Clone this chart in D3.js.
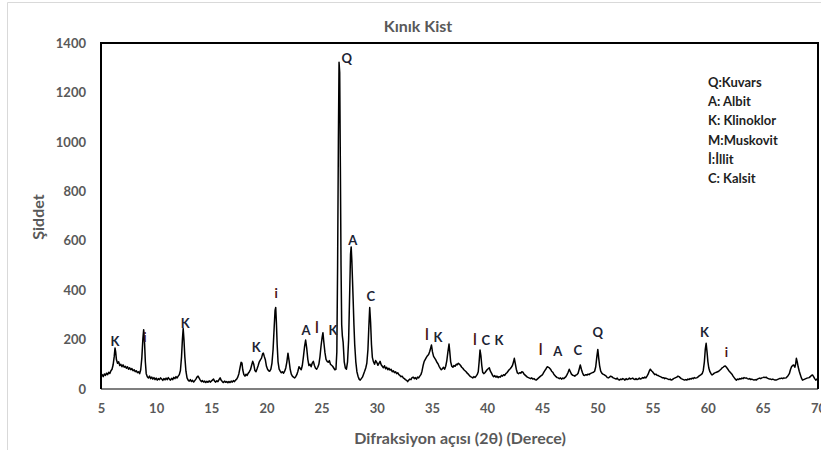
<!DOCTYPE html>
<html lang="tr">

<head>
  <meta charset="UTF-8">
  <script src="https://d3js.org/d3.v7.min.js"></script>
  <style>
    body { margin: 0; background: #fff; }
    text { font-family: Lato, "Open Sans", sans-serif; }
  </style>
</head>

<body>
  <svg id="chart" width="821" height="450"></svg>

  <script>
    // pattern: [2θ, intensity]
    const pattern = [
      [5.0, 52], [5.1, 58], [5.2, 50], [5.3, 61], [5.4, 55], [5.5, 64], [5.6, 58], [5.7, 68], [5.8, 63], [5.9, 74],
      [6.0, 80], [6.1, 98], [6.2, 132], [6.27, 166], [6.33, 150], [6.4, 118], [6.5, 104], [6.6, 110], [6.7, 95], [6.8, 100],
      [6.9, 90], [7.0, 98], [7.1, 88], [7.2, 92], [7.3, 84], [7.4, 90], [7.5, 80], [7.6, 86], [7.7, 78], [7.8, 83],
      [7.9, 74], [8.0, 78], [8.1, 70], [8.2, 74], [8.3, 66], [8.4, 70], [8.5, 62], [8.6, 78], [8.7, 125], [8.8, 205],
      [8.87, 240], [8.95, 185], [9.02, 110], [9.1, 62], [9.2, 50], [9.3, 45], [9.4, 52], [9.5, 42], [9.6, 48], [9.7, 40],
      [9.8, 46], [9.9, 38], [10.0, 44], [10.1, 36], [10.2, 42], [10.3, 38], [10.4, 45], [10.5, 40], [10.6, 35], [10.7, 42],
      [10.8, 37], [10.9, 44], [11.0, 38], [11.1, 46], [11.2, 40], [11.3, 36], [11.4, 43], [11.5, 38], [11.6, 47], [11.7, 42],
      [11.8, 50], [11.9, 45], [12.0, 52], [12.1, 58], [12.2, 75], [12.3, 130], [12.38, 200], [12.45, 245], [12.52, 200], [12.6, 130],
      [12.7, 72], [12.8, 45], [12.9, 36], [13.0, 32], [13.1, 38], [13.2, 30], [13.3, 35], [13.4, 28], [13.5, 34], [13.6, 40],
      [13.7, 48], [13.8, 52], [13.9, 44], [14.0, 36], [14.1, 30], [14.2, 34], [14.3, 28], [14.4, 32], [14.5, 26], [14.6, 31],
      [14.7, 27], [14.8, 33], [14.9, 28], [15.0, 32], [15.1, 36], [15.2, 40], [15.3, 32], [15.4, 28], [15.5, 33], [15.6, 30],
      [15.7, 38], [15.8, 45], [15.9, 35], [16.0, 30], [16.1, 26], [16.2, 32], [16.3, 27], [16.4, 30], [16.5, 25], [16.6, 30],
      [16.7, 26], [16.8, 32], [16.9, 28], [17.0, 34], [17.1, 30], [17.2, 36], [17.3, 40], [17.4, 48], [17.5, 62], [17.6, 85],
      [17.7, 108], [17.78, 105], [17.85, 78], [17.95, 58], [18.05, 52], [18.15, 60], [18.25, 55], [18.35, 64], [18.45, 70], [18.55, 78],
      [18.65, 95], [18.75, 112], [18.85, 100], [18.95, 75], [19.05, 70], [19.15, 82], [19.25, 95], [19.35, 110], [19.45, 118], [19.55, 125],
      [19.65, 142], [19.72, 145], [19.8, 132], [19.9, 118], [20.0, 92], [20.1, 80], [20.2, 74], [20.3, 72], [20.4, 80], [20.5, 105],
      [20.6, 160], [20.7, 250], [20.78, 318], [20.84, 330], [20.9, 270], [20.97, 180], [21.05, 110], [21.15, 80], [21.25, 72], [21.35, 66],
      [21.45, 70], [21.55, 64], [21.65, 72], [21.75, 85], [21.85, 110], [21.95, 145], [22.05, 115], [22.15, 80], [22.25, 60], [22.35, 52],
      [22.45, 48], [22.55, 45], [22.65, 50], [22.75, 58], [22.85, 72], [22.95, 90], [23.05, 84], [23.15, 78], [23.25, 95], [23.35, 130],
      [23.45, 170], [23.55, 198], [23.65, 165], [23.75, 120], [23.85, 95], [23.95, 100], [24.05, 90], [24.15, 105], [24.25, 112], [24.35, 95],
      [24.45, 84], [24.55, 80], [24.65, 88], [24.75, 100], [24.85, 130], [24.95, 175], [25.05, 210], [25.12, 228], [25.2, 190], [25.3, 148],
      [25.4, 120], [25.5, 112], [25.6, 108], [25.7, 115], [25.8, 100], [25.9, 96], [26.0, 92], [26.1, 85], [26.2, 78], [26.3, 80],
      [26.38, 150], [26.45, 500], [26.52, 1000], [26.58, 1322], [26.64, 1280], [26.7, 900], [26.76, 500], [26.82, 260], [26.88, 215], [26.95, 190],
      [27.05, 110], [27.15, 85], [27.25, 80], [27.35, 110], [27.45, 200], [27.55, 400], [27.62, 545], [27.68, 575], [27.74, 520], [27.8, 440],
      [27.86, 360], [27.93, 260], [28.0, 180], [28.1, 110], [28.2, 70], [28.3, 52], [28.4, 40], [28.5, 36], [28.6, 42], [28.7, 48],
      [28.8, 60], [28.9, 72], [29.0, 85], [29.1, 105], [29.2, 160], [29.28, 250], [29.36, 330], [29.44, 270], [29.52, 180], [29.6, 128],
      [29.7, 110], [29.8, 100], [29.9, 115], [30.0, 108], [30.1, 96], [30.2, 104], [30.3, 112], [30.4, 98], [30.5, 92], [30.6, 86],
      [30.7, 94], [30.8, 82], [30.9, 88], [31.0, 78], [31.1, 84], [31.2, 76], [31.3, 80], [31.4, 70], [31.5, 74], [31.6, 66],
      [31.7, 70], [31.8, 62], [31.9, 66], [32.0, 58], [32.1, 55], [32.2, 50], [32.3, 52], [32.4, 45], [32.5, 42], [32.6, 38],
      [32.7, 35], [32.8, 30], [32.9, 36], [33.0, 40], [33.1, 38], [33.2, 46], [33.3, 48], [33.4, 42], [33.5, 46], [33.6, 40],
      [33.7, 48], [33.8, 45], [33.9, 52], [34.0, 58], [34.1, 72], [34.2, 95], [34.3, 112], [34.4, 120], [34.5, 128], [34.6, 135],
      [34.7, 140], [34.8, 152], [34.9, 168], [34.96, 178], [35.05, 150], [35.15, 132], [35.25, 125], [35.35, 118], [35.45, 108], [35.55, 102],
      [35.65, 92], [35.75, 84], [35.85, 78], [35.95, 82], [36.05, 88], [36.15, 80], [36.25, 92], [36.35, 115], [36.45, 150], [36.55, 182],
      [36.62, 150], [36.7, 110], [36.8, 92], [36.9, 88], [37.0, 95], [37.1, 92], [37.2, 100], [37.3, 98], [37.4, 104], [37.5, 100],
      [37.6, 95], [37.7, 88], [37.8, 84], [37.9, 78], [38.0, 74], [38.1, 70], [38.2, 64], [38.3, 60], [38.4, 55], [38.5, 50],
      [38.6, 48], [38.7, 45], [38.8, 50], [38.9, 47], [39.0, 52], [39.1, 58], [39.2, 70], [39.28, 110], [39.36, 158], [39.44, 135],
      [39.52, 95], [39.6, 68], [39.7, 62], [39.8, 66], [39.9, 72], [40.0, 78], [40.1, 82], [40.2, 86], [40.3, 72], [40.4, 64],
      [40.5, 55], [40.6, 50], [40.7, 54], [40.8, 48], [40.9, 52], [41.0, 46], [41.1, 50], [41.2, 48], [41.3, 55], [41.4, 52],
      [41.5, 58], [41.6, 55], [41.7, 62], [41.8, 66], [41.9, 72], [42.0, 78], [42.1, 82], [42.2, 88], [42.3, 95], [42.4, 110],
      [42.47, 124], [42.55, 105], [42.65, 80], [42.75, 65], [42.85, 62], [42.95, 66], [43.05, 64], [43.15, 70], [43.25, 68], [43.35, 60],
      [43.45, 56], [43.55, 52], [43.65, 48], [43.75, 46], [43.85, 44], [43.95, 42], [44.05, 45], [44.15, 40], [44.25, 42], [44.35, 38],
      [44.45, 36], [44.55, 40], [44.65, 44], [44.75, 48], [44.85, 52], [44.95, 55], [45.05, 60], [45.15, 68], [45.25, 75], [45.35, 82],
      [45.45, 90], [45.55, 88], [45.65, 85], [45.75, 80], [45.85, 72], [45.95, 68], [46.05, 60], [46.15, 55], [46.25, 50], [46.35, 46],
      [46.45, 45], [46.55, 42], [46.65, 45], [46.75, 40], [46.85, 44], [46.95, 42], [47.05, 46], [47.15, 50], [47.25, 58], [47.35, 68],
      [47.45, 80], [47.55, 70], [47.65, 60], [47.75, 56], [47.85, 55], [47.95, 52], [48.05, 56], [48.15, 58], [48.25, 64], [48.35, 80],
      [48.45, 97], [48.55, 80], [48.65, 66], [48.75, 56], [48.85, 55], [48.95, 58], [49.05, 56], [49.15, 60], [49.25, 58], [49.35, 62],
      [49.45, 64], [49.55, 66], [49.65, 68], [49.75, 72], [49.85, 90], [49.95, 130], [50.04, 160], [50.12, 125], [50.2, 95], [50.3, 72],
      [50.4, 64], [50.5, 60], [50.6, 58], [50.7, 55], [50.8, 52], [50.9, 46], [51.0, 45], [51.1, 48], [51.2, 52], [51.3, 50],
      [51.4, 46], [51.5, 44], [51.6, 42], [51.7, 40], [51.8, 44], [51.9, 38], [52.0, 36], [52.1, 40], [52.2, 38], [52.3, 42],
      [52.4, 40], [52.5, 36], [52.6, 42], [52.7, 38], [52.8, 40], [52.9, 44], [53.0, 40], [53.1, 42], [53.2, 44], [53.3, 40],
      [53.4, 38], [53.5, 42], [53.6, 38], [53.7, 40], [53.8, 44], [53.9, 40], [54.0, 42], [54.1, 46], [54.2, 44], [54.3, 48],
      [54.4, 45], [54.5, 52], [54.6, 60], [54.7, 72], [54.8, 80], [54.9, 74], [55.0, 70], [55.1, 64], [55.2, 58], [55.3, 60],
      [55.4, 56], [55.5, 55], [55.6, 52], [55.7, 50], [55.8, 48], [55.9, 45], [56.0, 46], [56.1, 42], [56.2, 44], [56.3, 42],
      [56.4, 40], [56.5, 38], [56.6, 40], [56.7, 36], [56.8, 38], [56.9, 42], [57.0, 44], [57.1, 46], [57.2, 48], [57.3, 52],
      [57.4, 50], [57.5, 46], [57.6, 42], [57.7, 40], [57.8, 38], [57.9, 36], [58.0, 38], [58.1, 36], [58.2, 40], [58.3, 38],
      [58.4, 42], [58.5, 40], [58.6, 44], [58.7, 42], [58.8, 46], [58.9, 44], [59.0, 45], [59.1, 48], [59.2, 52], [59.3, 55],
      [59.4, 58], [59.5, 62], [59.6, 75], [59.7, 110], [59.78, 160], [59.86, 185], [59.94, 150], [60.02, 110], [60.1, 85], [60.2, 70],
      [60.3, 62], [60.4, 57], [60.5, 60], [60.6, 64], [60.7, 66], [60.8, 68], [60.9, 70], [61.0, 72], [61.1, 76], [61.2, 80],
      [61.3, 85], [61.4, 88], [61.5, 92], [61.6, 93], [61.7, 88], [61.8, 82], [61.9, 75], [62.0, 70], [62.1, 65], [62.2, 60],
      [62.3, 52], [62.4, 46], [62.5, 40], [62.6, 36], [62.7, 40], [62.8, 38], [62.9, 42], [63.0, 40], [63.1, 44], [63.2, 42],
      [63.3, 46], [63.4, 44], [63.5, 45], [63.6, 42], [63.7, 40], [63.8, 42], [63.9, 38], [64.0, 40], [64.1, 38], [64.2, 36],
      [64.3, 38], [64.4, 36], [64.5, 40], [64.6, 42], [64.7, 44], [64.8, 42], [64.9, 45], [65.0, 46], [65.1, 48], [65.2, 46],
      [65.3, 48], [65.4, 44], [65.5, 42], [65.6, 40], [65.7, 40], [65.8, 38], [65.9, 40], [66.0, 38], [66.1, 36], [66.2, 36],
      [66.3, 38], [66.4, 40], [66.5, 42], [66.6, 42], [66.7, 44], [66.8, 42], [66.9, 45], [67.0, 44], [67.1, 45], [67.2, 50],
      [67.3, 55], [67.4, 62], [67.5, 78], [67.6, 90], [67.7, 95], [67.8, 97], [67.9, 88], [67.97, 100], [68.04, 124], [68.12, 110],
      [68.2, 90], [68.3, 72], [68.4, 58], [68.5, 44], [68.6, 36], [68.7, 38], [68.8, 40], [68.9, 42], [69.0, 44], [69.1, 45],
      [69.2, 46], [69.3, 50], [69.4, 55], [69.5, 57], [69.6, 50], [69.7, 42], [69.8, 36], [69.9, 40], [70.0, 42]
    ];

    // peak letters: [text, 2θ, intensity at label centre]
    const peakLabels = [
      ["K", 6.27, 194], ["i", 8.98, 210], ["K", 12.63, 267], ["K", 19.06, 170], ["i", 20.87, 388],
      ["A", 23.58, 238], ["İ", 24.57, 247], ["K", 26.02, 238], ["Q", 27.27, 1340], ["A", 27.82, 600],
      ["C", 29.45, 376], ["İ", 34.54, 219], ["K", 35.54, 210], ["İ", 38.89, 198], ["C", 39.89, 198],
      ["K", 41.07, 198], ["İ", 44.87, 158], ["A", 46.41, 154], ["C", 48.22, 158], ["Q", 50.03, 231],
      ["K", 59.71, 231], ["i", 61.7, 150]
    ];

    const legendLines = ["Q:Kuvars", "A: Albit", "K: Klinoklor", "M:Muskovit", "İ:İllit", "C: Kalsit"];
    const xTicks = [5, 10, 15, 20, 25, 30, 35, 40, 45, 50, 55, 60, 65, 70];
    const yTicks = [0, 200, 400, 600, 800, 1000, 1200, 1400];

    const svg = d3.select("#chart");
    const plot = { left: 101, right: 818, top: 43, bottom: 389 };

    const x = d3.scaleLinear().domain([5, 70]).range([plot.left, plot.right]);
    const y = d3.scaleLinear().domain([0, 1400]).range([plot.bottom, plot.top]);

    // outer chart frame
    svg.append("path")
      .attr("d", "M7.5,450 L7.5,2.5 L821,2.5")
      .attr("fill", "none")
      .attr("stroke", "#d9d9d9")
      .attr("stroke-width", 1);

    // title
    svg.append("text")
      .attr("x", 418).attr("y", 32)
      .attr("text-anchor", "middle")
      .attr("font-size", 16).attr("font-weight", "bold")
      .attr("fill", "#595959")
      .text("Kınık Kist");

    // axes
    const xAxis = svg.append("g")
      .attr("transform", "translate(0," + plot.bottom + ")")
      .call(d3.axisBottom(x).tickValues(xTicks).tickSize(0).tickPadding(15));
    const yAxis = svg.append("g")
      .attr("transform", "translate(" + plot.left + ",0)")
      .call(d3.axisLeft(y).tickValues(yTicks).tickFormat(d3.format("d")).tickSize(0).tickPadding(15));
    [xAxis, yAxis].forEach(g => {
      g.select(".domain").remove();
      g.selectAll("text")
        .attr("font-family", "Lato, sans-serif")
        .attr("font-size", 13).attr("font-weight", "bold")
        .attr("fill", "#595959");
    });

    // axis titles
    svg.append("text")
      .attr("x", 460).attr("y", 444)
      .attr("text-anchor", "middle")
      .attr("font-size", 16).attr("font-weight", "bold")
      .attr("fill", "#595959")
      .text("Difraksiyon açısı (2θ) (Derece)");
    svg.append("text")
      .attr("transform", "translate(44,217) rotate(-90)")
      .attr("text-anchor", "middle")
      .attr("font-size", 16).attr("font-weight", "bold")
      .attr("fill", "#595959")
      .text("Şiddet");

    // diffraction trace
    const line = d3.line().x(d => x(d[0])).y(d => y(d[1]));
    svg.append("path")
      .datum(pattern)
      .attr("d", line)
      .attr("fill", "none")
      .attr("stroke", "#000")
      .attr("stroke-width", 1.5)
      .attr("stroke-linejoin", "round");

    // plot frame
    svg.append("line")
      .attr("x1", plot.left).attr("x2", plot.right)
      .attr("y1", plot.bottom).attr("y2", plot.bottom)
      .attr("stroke", "#7f7f7f").attr("stroke-width", 2);
    svg.append("path")
      .attr("d", "M" + plot.left + "," + plot.bottom + " L" + plot.left + "," + plot.top +
        " L" + plot.right + "," + plot.top + " L" + plot.right + "," + plot.bottom)
      .attr("fill", "none")
      .attr("stroke", "#000")
      .attr("stroke-width", 2);

    // peak letters
    svg.selectAll("text.peak").data(peakLabels)
      .join("text")
      .attr("class", "peak")
      .attr("x", d => x(d[1]))
      .attr("y", d => y(d[2]))
      .attr("dy", "0.36em")
      .attr("text-anchor", "middle")
      .attr("font-family", d => d[0] === "İ" ? "'Open Sans', sans-serif" : null)
      .attr("font-size", 13).attr("font-weight", "bold")
      .attr("fill", d => d[0] === "i" || d[0] === "İ" ? "#4a1212" : "#1c2333")
      .text(d => d[0]);

    // legend
    svg.selectAll("text.legend").data(legendLines)
      .join("text")
      .attr("class", "legend")
      .attr("x", 708)
      .attr("y", (d, i) => 82 + i * 19.3)
      .attr("dy", "0.36em")
      .attr("font-size", 13).attr("font-weight", "bold")
      .attr("fill", "#1f1f1f")
      .text(d => d);
  </script>
</body>

</html>
